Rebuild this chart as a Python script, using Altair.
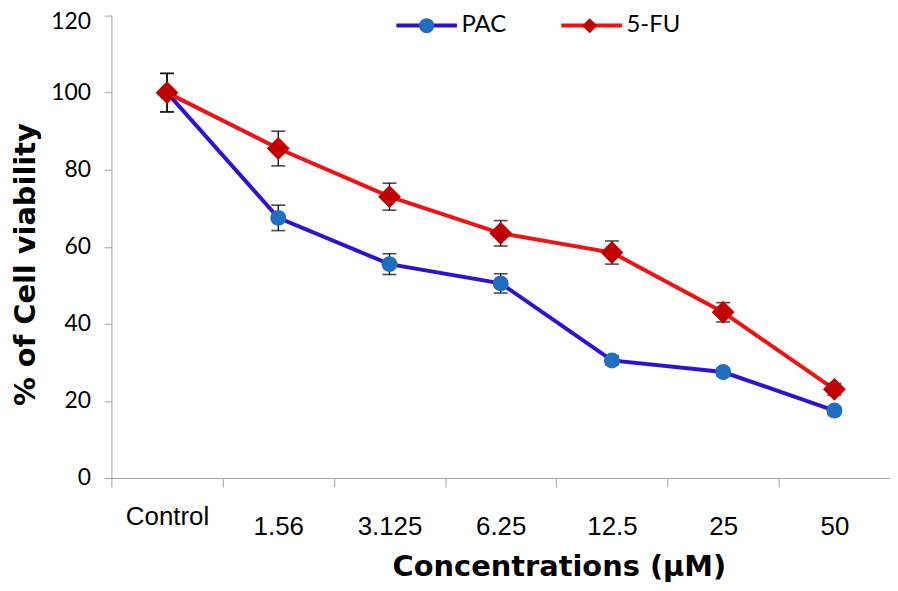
import altair as alt
import pandas as pd

concentrations = ["Control", "1.56", "3.125", "6.25", "12.5", "25", "50"]
series_names = ["PAC", "5-FU"]
marker_keys = ["PAC ", "5-FU "]
pac_mean = [100, 67.5, 55.5, 50.5, 30.5, 27.5, 17.5]
pac_err = [5, 3.3, 2.7, 2.5, 1.2, 1.0, 1.0]
fu_mean = [100, 85.5, 73, 63.5, 58.5, 43, 23]
fu_err = [5, 4.5, 3.5, 3.3, 3.0, 2.5, 1.5]
y_ticks = [0, 20, 40, 60, 80, 100, 120]

line_colors = ["#3210d2", "#f01212"]
marker_colors = ["#1f6ebf", "#c00000"]
marker_shapes = ["circle", "diamond"]

rows = []
for name, key, means, errs in [("PAC", marker_keys[0], pac_mean, pac_err),
                               ("5-FU", marker_keys[1], fu_mean, fu_err)]:
    for i, (c, m, e) in enumerate(zip(concentrations, means, errs)):
        rows.append({"series": name, "marker": key, "conc": c, "idx": i, "value": m,
                     "lo": m - e, "hi": m + e})
df = pd.DataFrame(rows)

x_axis = alt.Axis(
    title="Concentrations (µM)", tickBand="extent", labelAngle=0, grid=False,
    domainColor="#a0a0a0", tickColor="#a0a0a0", tickSize=9,
    labelFont="Liberation Sans", labelFontSize=26, labelColor="black",
    labelPadding={"condition": {"test": "datum.value === 'Control'", "value": 17}, "value": 27},
    titleFont="DejaVu Sans", titleFontWeight="bold", titleFontSize=29, titleColor="black",
    titleX=450, titleY=98, titleAlign="center", titleBaseline="alphabetic",
)
y_axis = alt.Axis(
    title="% of Cell viability", values=y_ticks, grid=False,
    domainColor="#a0a0a0", tickColor="#a0a0a0", tickSize=7,
    labelFont="Lato", labelFontSize=23, labelColor="black", labelPadding=14,
    labelOffset={"condition": {"test": "datum.value === 120", "value": 6}, "value": 0},
    titleFont="DejaVu Sans", titleFontWeight="bold", titleFontSize=29, titleColor="black",
    titleX=-86, titleY=250, titleAngle=-90, titleAlign="center", titleBaseline="middle",
)

x_enc = alt.X("conc:N", title="Concentrations (µM)",
              scale=alt.Scale(type="band", domain=concentrations, paddingInner=0, paddingOuter=0),
              axis=x_axis)
y_scale = alt.Scale(domain=[0, 120], nice=False)


def y_enc(field):
    return alt.Y(field, type="quantitative", title="% of Cell viability", scale=y_scale, axis=y_axis)


legend_lines = alt.Legend(
    title=None, orient="none", legendX=305, legendY=-2, direction="horizontal",
    symbolType="M-4,0H4", symbolSize=232, symbolStrokeWidth=4,
    labelFont="Lato", labelFontSize=24, labelColor="black", labelOffset=23,
    columnPadding=46, padding=0, zindex=1,
)
legend_points = alt.Legend(
    title=None, orient="none", legendX=305, legendY=-2, direction="horizontal",
    symbolSize=232, symbolStrokeWidth=4, symbolStrokeColor="transparent",
    labelFont="Lato", labelFontSize=24, labelColor="transparent", labelOffset=23,
    labelExpr="''",
    columnPadding=113, padding=0, zindex=2,
)

lines = alt.Chart(df).mark_line(strokeWidth=4).encode(
    x=x_enc, y=y_enc("value"),
    color=alt.Color("series:N", scale=alt.Scale(domain=series_names, range=line_colors),
                    legend=legend_lines),
    order=alt.Order("idx:Q"),
)

err_rules = alt.Chart(df).mark_rule(color="black", strokeWidth=1.3).encode(
    x=x_enc, y=y_enc("lo"), y2="hi:Q")
cap_lo = alt.Chart(df).mark_tick(color="black", size=14, thickness=1.6).encode(
    x=x_enc, y=y_enc("lo"))
cap_hi = alt.Chart(df).mark_tick(color="black", size=14, thickness=1.6).encode(
    x=x_enc, y=y_enc("hi"))

fill_enc = alt.Fill("marker:N", scale=alt.Scale(domain=marker_keys, range=marker_colors),
                    legend=legend_points)
shape_enc = alt.Shape("marker:N", scale=alt.Scale(domain=marker_keys, range=marker_shapes),
                      legend=legend_points)

pts_pac = alt.Chart(df).transform_filter(alt.datum.series == "PAC").mark_point(
    filled=True, size=256, opacity=1, strokeWidth=0).encode(
    x=x_enc, y=y_enc("value"), fill=fill_enc, shape=shape_enc)
pts_fu = alt.Chart(df).transform_filter(alt.datum.series == "5-FU").mark_point(
    filled=True, size=529, opacity=1, strokeWidth=0).encode(
    x=x_enc, y=y_enc("value"), fill=fill_enc, shape=shape_enc)

chart = alt.layer(lines, err_rules, cap_lo, cap_hi, pts_pac, pts_fu).properties(
    width=783, height=465,
    autosize=alt.AutoSizeParams(type="none"),
    padding={"left": 104, "top": 6, "right": 0, "bottom": 104},
    background="white",
).configure_view(strokeWidth=0)

chart.save("out.html", embed_options={"renderer": "svg", "actions": False})
